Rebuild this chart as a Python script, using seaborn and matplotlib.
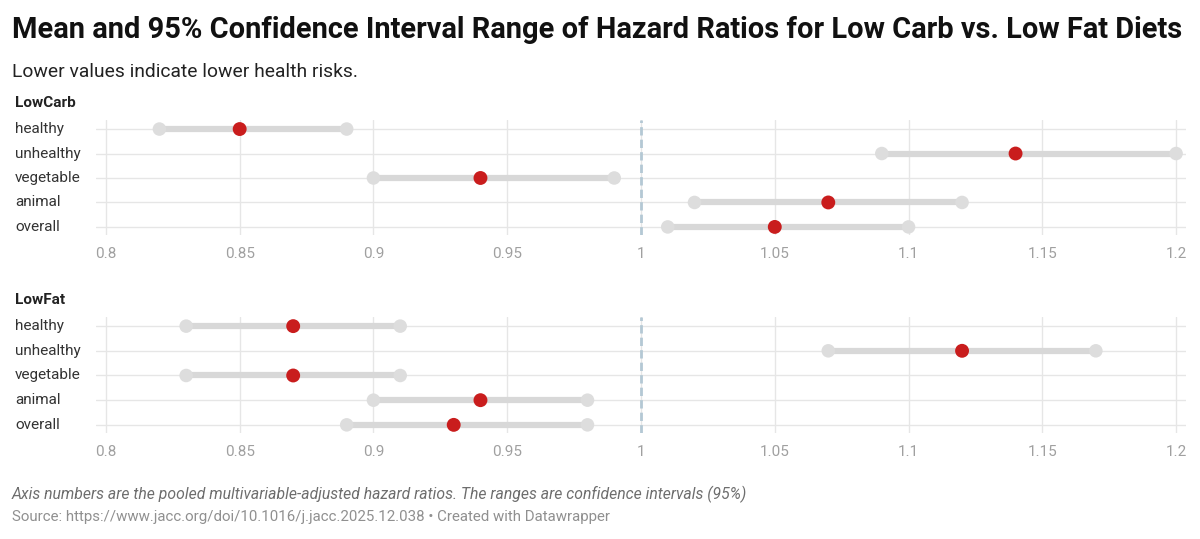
import numpy as np
import pandas as pd
import matplotlib as mpl
import matplotlib.pyplot as plt
import matplotlib.transforms as mtransforms
import seaborn as sns

# values
categories = ['healthy', 'unhealthy', 'vegetable', 'animal', 'overall']
diets = ['LowCarb', 'LowFat']

lowcarb_low = [0.82, 1.09, 0.90, 1.02, 1.01]
lowcarb_mean = [0.85, 1.14, 0.94, 1.07, 1.05]
lowcarb_high = [0.89, 1.20, 0.99, 1.12, 1.10]

lowfat_low = [0.83, 1.07, 0.83, 0.90, 0.89]
lowfat_mean = [0.87, 1.12, 0.87, 0.94, 0.93]
lowfat_high = [0.91, 1.17, 0.91, 0.98, 0.98]

xticks = [0.8, 0.85, 0.9, 0.95, 1.0, 1.05, 1.1, 1.15, 1.2]
xtick_labels = ['0.8', '0.85', '0.9', '0.95', '1', '1.05', '1.1', '1.15', '1.2']

df = pd.DataFrame({
    'diet': np.repeat(diets, len(categories)),
    'category': categories * 2,
    'low': lowcarb_low + lowfat_low,
    'mean': lowcarb_mean + lowfat_mean,
    'high': lowcarb_high + lowfat_high,
})
df['row'] = df['category'].map({c: i for i, c in enumerate(categories)})

sns.set_theme(style='white')
plt.rcParams['font.family'] = ['Roboto', 'DejaVu Sans']

W, H = 1200, 539
fig = plt.figure(figsize=(W / 100, H / 100), dpi=100)

RED = '#c91d1d'
LINE = '#d8d8d8'
DOT = '#dddddd'
GRID = '#e6e6e6'

# panel boxes in pixel coords: (top, bottom, label y)
panels = [(120, 235, 103), (317, 433, 300)]
left_px, right_px = 96, 1186

for diet, (top, bottom, label_y) in zip(diets, panels):
    ax = fig.add_axes([left_px / W, 1 - bottom / H, (right_px - left_px) / W, (bottom - top) / H])
    sub = df[df.diet == diet]

    ax.set_xlim(0.7963, 1.2037)
    ax.set_ylim(4.33, -0.37)
    ax.set_xticks(xticks)
    ax.set_xticklabels(xtick_labels)
    ax.set_yticks(range(len(categories)))
    ax.set_yticklabels([])
    ax.grid(True, color=GRID, lw=1)
    ax.set_axisbelow(True)
    for s in ax.spines.values():
        s.set_visible(False)
    ax.tick_params(axis='x', length=0, pad=8.5, labelsize=11, labelcolor='#a0a0a0')
    ax.tick_params(axis='y', length=0)

    ax.axvline(1.0, color='#b4c8d4', lw=2, ls=(0, (3, 1.5)), zorder=1)

    ax.hlines(sub['row'], sub['low'], sub['high'], color=LINE, lw=4.5, zorder=2)
    ends = pd.concat([sub[['row', 'low']].rename(columns={'low': 'x'}),
                      sub[['row', 'high']].rename(columns={'high': 'x'})])
    sns.scatterplot(data=ends, x='x', y='row', ax=ax, color=DOT, s=95,
                    edgecolor='none', zorder=3, legend=False)
    sns.scatterplot(data=sub, x='mean', y='row', ax=ax, color=RED, s=100,
                    edgecolor='none', zorder=4, legend=False)
    ax.set_xlabel('')
    ax.set_ylabel('')

    tr = mtransforms.blended_transform_factory(fig.transFigure, ax.transData)
    for _, r in sub.iterrows():
        ax.text(15 / W, r['row'], r['category'], transform=tr, ha='left', va='center',
                fontsize=11, color='#333333')
    fig.text(15 / W, 1 - label_y / H, diet, ha='left', va='center', fontsize=11,
             fontweight='bold', color='#222222')

fig.text(12 / W, 1 - 30 / H, 'Mean and 95% Confidence Interval Range of Hazard Ratios for Low Carb vs. Low Fat Diets',
         ha='left', va='center', fontsize=20.9, fontweight='bold', color='#111111')
fig.text(12 / W, 1 - 72 / H, 'Lower values indicate lower health risks.',
         ha='left', va='center', fontsize=13.9, color='#222222')
fig.text(12 / W, 1 - 494 / H,
         'Axis numbers are the pooled multivariable-adjusted hazard ratios. The ranges are confidence intervals (95%)',
         ha='left', va='center', fontsize=11.3, style='italic', color='#6e6e6e')
fig.text(12 / W, 1 - 517 / H,
         'Source: https://www.jacc.org/doi/10.1016/j.jacc.2025.12.038 \u2022 Created with Datawrapper',
         ha='left', va='center', fontsize=10.8, color='#909090')

fig.savefig('out.png', dpi=100, facecolor='white')
